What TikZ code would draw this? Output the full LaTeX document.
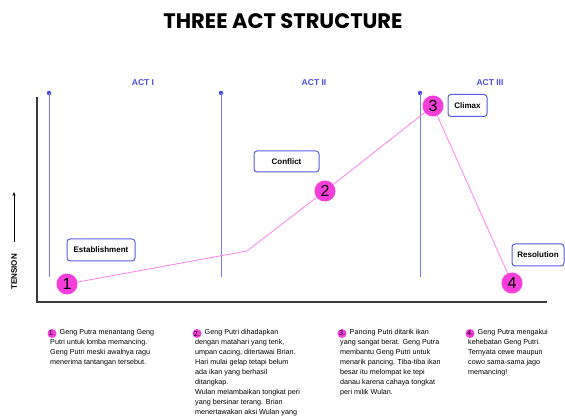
\documentclass[tikz,border=0pt]{standalone}
\usepackage{fontspec}
\setmainfont{Liberation Sans}
\newfontfamily\titlefont{Poppins Bold}
\usetikzlibrary{arrows.meta}
\definecolor{pinkfill}{HTML}{F53ED9}
\definecolor{pinkline}{HTML}{FF80EE}
\definecolor{actblue}{HTML}{4B4BEE}
\definecolor{lineblue}{HTML}{7878FA}
\definecolor{boxblue}{HTML}{5A5AE6}
\definecolor{axisgrey}{HTML}{3A3A3A}
\tikzset{
  axisline/.style={draw=axisgrey, line width=1.6pt},
  actline/.style={draw=lineblue, line width=1pt},
  actdot/.style={circle, fill=actblue, inner sep=0pt, minimum size=4.5pt},
  actlabel/.style={text=actblue, font=\fontsize{8.5}{9}\selectfont\bfseries},
  beatbox/.style={draw=boxblue, line width=1pt, rounded corners=3pt, fill=white, inner sep=0pt, font=\fontsize{8}{9}\selectfont\bfseries},
  beatnum/.style={circle, fill=pinkfill, inner sep=0pt, minimum size=21pt, font=\fontsize{16}{16}\selectfont},
  tensionline/.style={draw=pinkline, line width=0.8pt},
  desc/.style={anchor=north west, inner sep=0pt, align=left, font=\fontsize{7.2}{10}\selectfont},
  descmark/.style={circle, fill=pinkfill, inner sep=0pt, minimum size=9pt, font=\fontsize{7.2}{8}\selectfont},
}
\begin{document}
\begin{tikzpicture}[x=1pt,y=-1pt]
\useasboundingbox (0,0) rectangle (565,419);
% title
\node[font=\titlefont\fontsize{21}{21}\selectfont] (title) at (283,21) {THREE ACT STRUCTURE};
% axes
\coordinate (ytop) at (37,97);
\coordinate (origin) at (37,302);
\coordinate (xend) at (547,302);
\draw[axisline] (ytop) -- (origin) -- (xend);
% tension label
\node[rotate=90, font=\fontsize{8}{9}\selectfont\bfseries] (tlabel) at (14,272) {TENSION};
\coordinate (tarrowbot) at (14,242);
\coordinate (tarrowtop) at (14,192);
\draw[-{Stealth[length=4pt,width=3pt]}, line width=0.6pt] (tarrowbot) -- (tarrowtop);
% act lines
\foreach \n/\x in {a/49, b/221, c/420}{
  \node[actdot] (dot\n) at (\x,93) {};
  \coordinate (bot\n) at (\x,277);
  \draw[actline] (dot\n.center) -- (bot\n);
}
\node[actlabel] (act1) at (143,83) {ACT I};
\node[actlabel] (act2) at (314,83) {ACT II};
\node[actlabel] (act3) at (490,83) {ACT III};
% beat boxes
\node[beatbox, minimum width=68pt, minimum height=22pt] (establish) at (101,250) {Establishment};
\node[beatbox, minimum width=65pt, minimum height=21pt] (conflict) at (286.5,161.5) {Conflict};
\node[beatbox, minimum width=39pt, minimum height=22pt] (climax) at (467.5,105.5) {Climax};
\node[beatbox, minimum width=52pt, minimum height=22pt] (resolution) at (538,255) {Resolution};
% tension curve
\coordinate (kink) at (247,251);
\node[beatnum, fill=none] (n1) at (67,284) {\phantom{1}};
\node[beatnum, fill=none] (n2) at (325,191) {\phantom{2}};
\node[beatnum, fill=none] (n3) at (433,106) {\phantom{3}};
\node[beatnum, fill=none] (n4) at (512,283) {\phantom{4}};
\draw[tensionline] (n1) -- (kink) -- (n2) -- (n3) -- (n4);
\node[beatnum] (f1) at (n1) {1};
\node[beatnum] (f2) at (n2) {2};
\node[beatnum] (f3) at (n3) {3};
\node[beatnum] (f4) at (n4) {4};
% descriptions
\node[descmark] (m1) at (52,333.5) {1.};
\node[desc] (d1) at (50,329) {\hspace{9.5pt}Geng Putra menantang Geng\\Putri untuk lomba memancing.\\Geng Putri meski awalnya ragu\\menerima tantangan tersebut.};
\node[descmark] (m2) at (197,333.5) {2.};
\node[desc] (d2) at (195,329) {\hspace{9.5pt}Geng Putri dihadapkan\\dengan matahari yang terik,\\umpan cacing, ditertawai Brian.\\Hari mulai gelap tetapi belum\\ada ikan yang berhasil\\ditangkap.\\Wulan melambaikan tongkat peri\\yang bersinar terang. Brian\\menertawakan aksi Wulan yang};
\node[descmark] (m3) at (342,333.5) {3.};
\node[desc] (d3) at (340,329) {\hspace{9.5pt}Pancing Putri ditarik ikan\\yang sangat berat. Geng Putra\\membantu Geng Putri untuk\\menarik pancing. Tiba-tiba ikan\\besar itu melompat ke tepi\\danau karena cahaya tongkat\\peri milik Wulan.};
\node[descmark] (m4) at (470,333.5) {4.};
\node[desc] (d4) at (468,329) {\hspace{9.5pt}Geng Putra mengakui\\kehebatan Geng Putri.\\Ternyata cewe maupun\\cowo sama-sama jago\\memancing!};
\end{tikzpicture}
\end{document}
